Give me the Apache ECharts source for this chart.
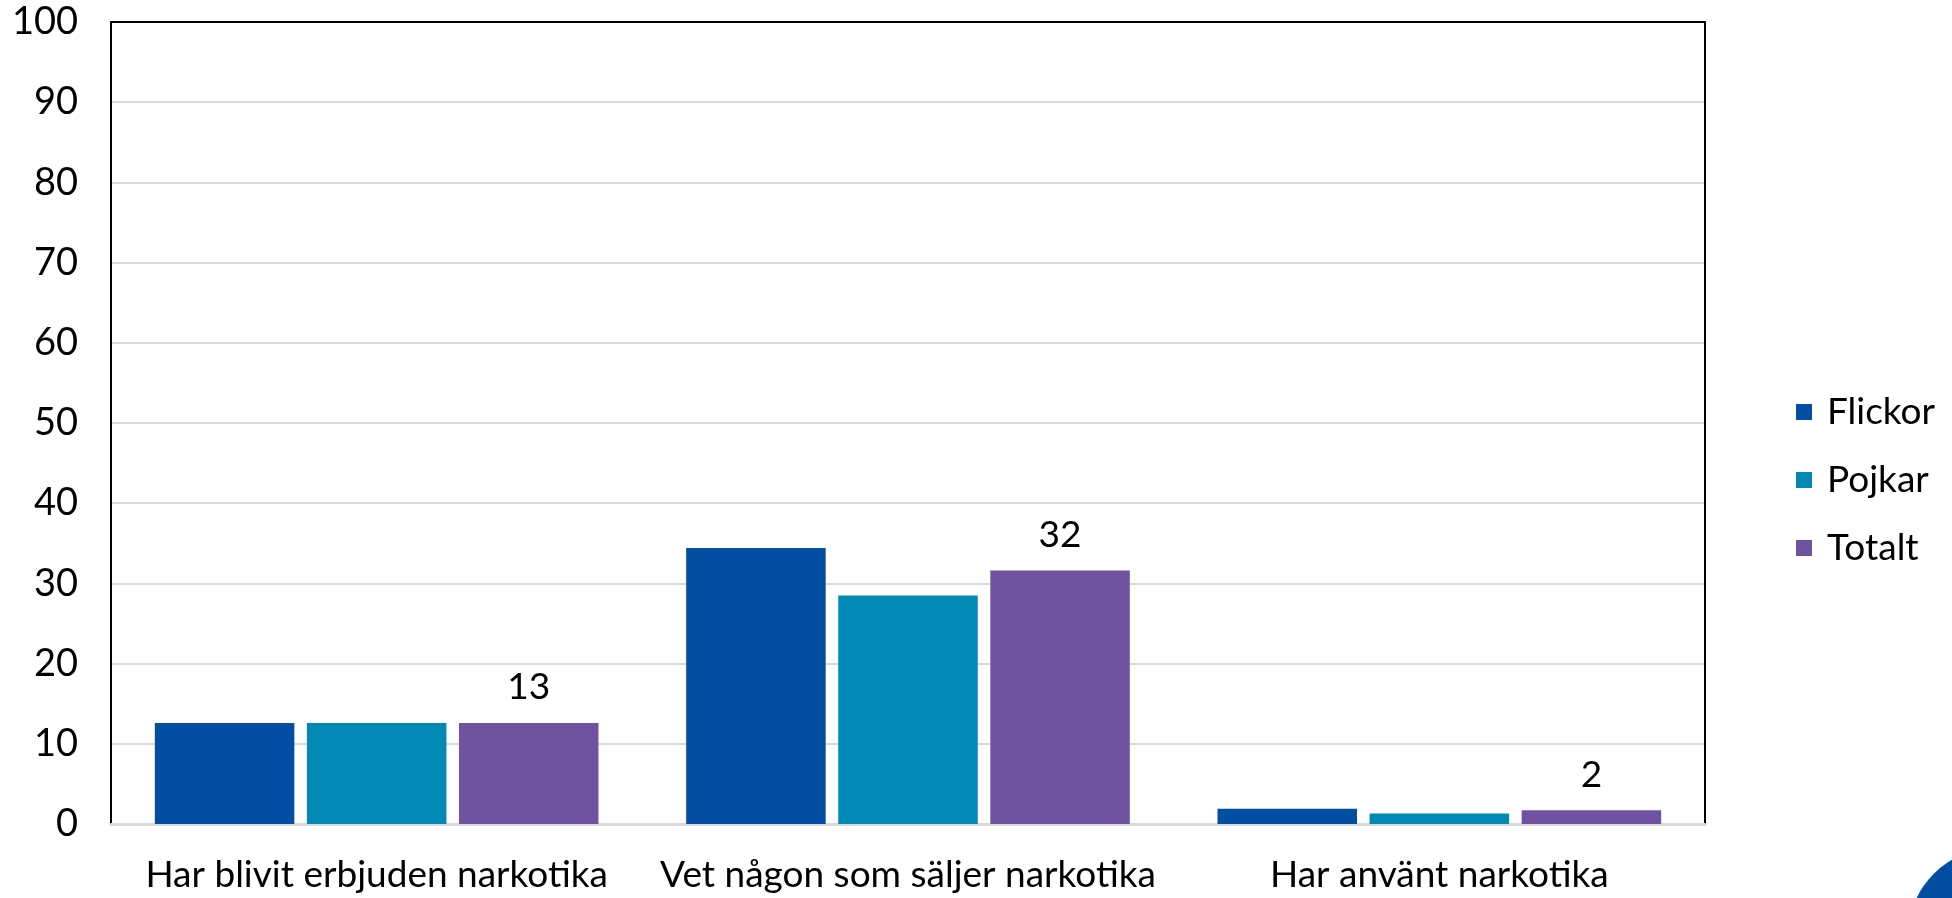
<!DOCTYPE html>
<html>
<head>
<meta charset="utf-8">
<script src="https://cdn.jsdelivr.net/npm/echarts@6/dist/echarts.min.js"></script>
<style>
html,body{margin:0;padding:0;background:#fff;}
#chart{width:1952px;height:898px;}
</style>
</head>
<body>
<div id="chart"></div>
<script>
const categories = ['Har blivit erbjuden narkotika', 'Vet någon som säljer narkotika', 'Har använt narkotika'];
const seriesNames = ['Flickor', 'Pojkar', 'Totalt'];
const flickor = [12.6, 34.4, 1.9];
const pojkar = [12.6, 28.5, 1.3];
const totalt = [12.6, 31.6, 1.7];
const colors = ['#034ea2', '#0089b5', '#6f52a0'];

const FONT = 'Lato';
const chart = echarts.init(document.getElementById('chart'), null, {renderer: 'canvas'});

function barSeries(name, data, color, withLabel) {
  return {
    name: name,
    type: 'bar',
    data: data,
    barGap: '9%',
    barCategoryGap: '16.5%',
    itemStyle: {color: color},
    label: {
      show: withLabel,
      position: 'top',
      distance: 17,
      color: '#000',
      fontFamily: FONT,
      fontSize: 37,
      formatter: p => Math.round(p.value)
    },
    emphasis: {disabled: true}
  };
}

chart.setOption({
  animation: false,
  backgroundColor: '#fff',
  grid: {left: 111, right: 247, top: 22, bottom: 74},
  legend: {
    orient: 'vertical',
    left: 1791,
    top: 386,
    itemWidth: 16,
    itemHeight: 16,
    itemGap: 26,
    icon: 'rect',
    data: seriesNames,
    textStyle: {fontFamily: FONT, fontSize: 37, color: '#000', lineHeight: 42, padding: [0, 0, 0, 10]}
  },
  xAxis: [{
    type: 'category',
    data: categories,
    position: 'bottom',
    axisLine: {show: true, onZero: false, lineStyle: {color: '#d9d9d9', width: 3}},
    axisTick: {show: false},
    axisLabel: {interval: 0, fontFamily: FONT, fontSize: 37, color: '#000', margin: 33}
  }, {
    type: 'category',
    data: categories,
    position: 'top',
    axisLine: {show: true, onZero: false, lineStyle: {color: '#000', width: 2}},
    axisTick: {show: false},
    axisLabel: {show: false}
  }],
  yAxis: [{
    type: 'value',
    min: 0, max: 100, interval: 10,
    position: 'left',
    axisLine: {show: true, onZero: false, lineStyle: {color: '#000', width: 2}},
    axisTick: {show: false},
    splitLine: {show: true, lineStyle: {color: '#d9d9d9', width: 2}},
    axisLabel: {fontFamily: FONT, fontSize: 38, color: '#000', margin: 33}
  }, {
    type: 'value',
    min: 0, max: 100, interval: 10,
    position: 'right',
    axisLine: {show: true, onZero: false, lineStyle: {color: '#000', width: 2}},
    axisTick: {show: false},
    splitLine: {show: false},
    axisLabel: {show: false}
  }],
  series: [
    barSeries(seriesNames[0], flickor, colors[0], false),
    barSeries(seriesNames[1], pojkar, colors[1], false),
    barSeries(seriesNames[2], totalt, colors[2], true)
  ],
  graphic: [{
    type: 'circle',
    shape: {cx: 1996, cy: 936, r: 88},
    style: {fill: '#034ea2'},
    silent: true
  }]
});
</script>
</body>
</html>
